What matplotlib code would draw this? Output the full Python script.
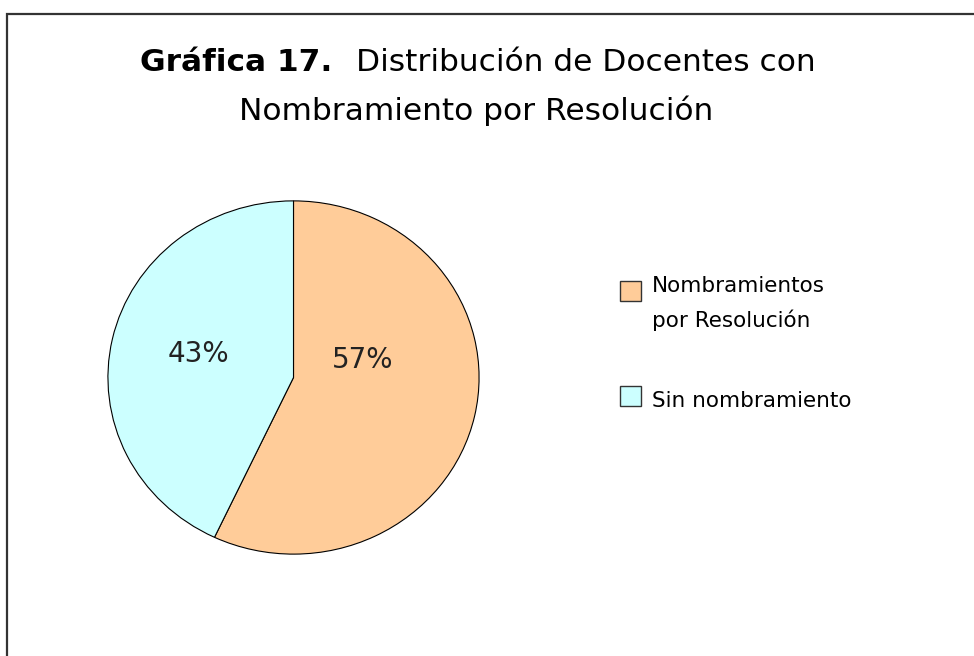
import matplotlib.pyplot as plt
from matplotlib.patches import Rectangle

# data
labels = ['Nombramientos\npor Resolución', 'Sin nombramiento']
values = [57, 43]
colors = ['#FFCC99', '#CCFFFF']

W, H = 974, 656
fig = plt.figure(figsize=(W / 100, H / 100), dpi=100)
fig.patch.set_facecolor('white')

def fx(px):
    return px / W

def fy(py):
    return 1 - py / H

# outer frame (right and bottom edges fall outside the picture)
fig.patches.append(Rectangle((fx(7), -0.1), 1.2, fy(14) + 0.1,
                             transform=fig.transFigure, fill=False,
                             edgecolor='#333333', lw=1.6))

# title: bold part + normal part on line 1, centred as a whole
t1 = fig.text(0, fy(71), 'Gráfica 17.', fontsize=22.5, fontweight='bold',
              ha='left', va='baseline')
t2 = fig.text(0, fy(71), 'Distribución de Docentes con', fontsize=22.5,
              ha='left', va='baseline')
r = fig.canvas.get_renderer()
w1 = t1.get_window_extent(r).width
w2 = t2.get_window_extent(r).width
gap = 23
x0 = 478 - (w1 + gap + w2) / 2
t1.set_x(fx(x0))
t2.set_x(fx(x0 + w1 + gap))
fig.text(fx(476), fy(120), 'Nombramiento por Resolución', fontsize=22.5,
         ha='center', va='baseline')

# pie (slightly elliptical like the original)
ax = fig.add_axes([fx(107), fy(555), 373 / W, 355 / H])
ax.pie(values, colors=colors, startangle=90, counterclock=False,
       wedgeprops=dict(edgecolor='black', linewidth=0.8))
ax.set_aspect('auto')
ax.set_xlim(-1.005, 1.005)
ax.set_ylim(-1.005, 1.005)
ax.axis('off')

total = sum(values)
pct_pos = [(363, 368), (198, 362)]
for v, (px, py) in zip(values, pct_pos):
    fig.text(fx(px), fy(py), '%d%%' % round(100 * v / total), fontsize=20,
             ha='center', va='baseline', color='#222222')

# legend (y = baseline of the last text line)
box_y = [281, 386]
text_y = [327, 407]
for lab, c, by, ty in zip(labels, colors, box_y, text_y):
    fig.patches.append(Rectangle((fx(620), fy(by + 20)), 21 / W, 20 / H,
                                 transform=fig.transFigure, facecolor=c,
                                 edgecolor='#333333', lw=1))
    fig.text(fx(652), fy(ty), lab, fontsize=15.5, ha='left', va='baseline',
             linespacing=1.76)

plt.savefig('out.png', dpi=100)
plt.close()
